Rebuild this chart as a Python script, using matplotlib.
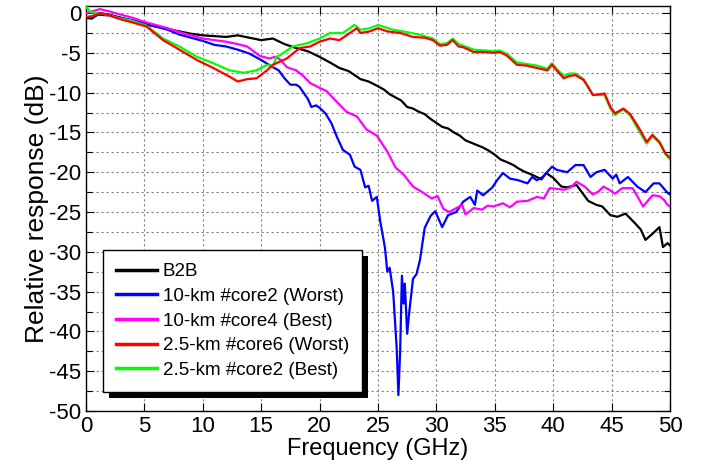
import matplotlib
matplotlib.use("Agg")
import matplotlib.pyplot as plt
from matplotlib.patches import Rectangle
from matplotlib.transforms import IdentityTransform
from matplotlib.ticker import MultipleLocator

plt.rcParams['font.family'] = ['Liberation Sans', 'DejaVu Sans']
plt.rcParams['axes.unicode_minus'] = False

# back-to-back reference
b2b_f = [0, 0.5, 1.2, 2, 3, 4, 5, 6, 7, 8, 9, 10, 11, 12, 13, 14, 15, 16, 17, 18,
         19, 20, 21, 21.7, 22.5, 23.5, 24.2, 25, 25.5, 26, 26.5, 27, 27.5, 28, 28.5, 29, 29.5, 30, 30.5, 31,
         31.5, 32, 32.5, 33, 33.5, 34, 34.5, 35, 35.5, 36, 36.6, 37, 37.5, 38, 38.6, 39, 39.4, 40, 40.7, 41.2,
         42, 42.5, 43, 43.7, 44.2, 44.9, 45.5, 46.2, 47, 47.5, 47.9, 48.3, 48.6, 49.1, 49.4, 49.8, 50]
b2b = [-0.6, -0.7, 0.0, -0.2, -0.6, -1.0, -1.4, -1.7, -2.0, -2.3, -2.6, -2.8, -2.9, -3.0, -2.8, -3.1, -3.4, -3.2, -3.9, -4.4,
       -4.8, -5.5, -6.3, -6.9, -7.3, -8.3, -8.6, -9.2, -9.6, -10.2, -10.6, -11.0, -11.8, -12.0, -12.4, -12.7, -13.3, -13.8, -14.3, -14.5,
       -15.0, -15.4, -16.0, -16.3, -16.6, -16.9, -17.3, -17.8, -18.4, -18.7, -19.1, -19.5, -19.9, -20.2, -20.6, -20.9, -20.1, -20.7, -21.8, -21.9,
       -21.6, -22.6, -23.6, -24.1, -24.3, -25.4, -25.6, -25.2, -26.4, -27.2, -28.5, -28.0, -27.6, -26.9, -29.4, -28.9, -29.2]

# 10-km fibre, core 2 (worst)
c10w_f = [0, 0.5, 1, 2, 3, 4, 5, 6, 7, 8, 9, 10, 11, 12, 13, 14, 15, 16, 16.5, 17,
          17.5, 18, 18.3, 19, 19.3, 19.7, 20, 20.5, 21, 21.5, 22, 22.6, 23, 23.5, 23.9, 24.2, 24.5, 24.9, 25.2, 25.6,
          25.8, 26.0, 26.3, 26.6, 26.75, 26.9, 27.05, 27.2, 27.3, 27.5, 27.7, 28.0, 28.3, 28.6, 29.0, 29.5, 29.9, 30.5, 31.0, 31.7,
          32.3, 32.9, 33.3, 33.5, 34.0, 34.8, 35.2, 35.7, 36.3, 37.0, 37.8, 38.2, 38.6, 39.1, 39.9, 40.3, 41.2, 41.9, 42.6, 43.2,
          43.7, 44.4, 45.1, 45.4, 45.7, 46.4, 47.2, 47.9, 48.6, 49.1, 49.8, 50]
c10w = [-0.5, -0.5, -0.2, -0.3, -0.6, -0.9, -1.3, -1.7, -2.1, -2.7, -3.1, -3.5, -4.0, -4.2, -4.6, -5.1, -5.9, -6.8, -7.2, -8.2,
        -9.0, -9.0, -9.3, -10.8, -11.8, -11.6, -11.9, -12.6, -13.8, -15.6, -17.2, -17.8, -19.3, -19.7, -21.9, -21.7, -23.6, -23.1, -26.2, -29.5,
        -32.5, -32.0, -35.0, -42.0, -48.0, -42.5, -33.0, -36.5, -34.0, -40.3, -37.3, -33.4, -32.8, -31.0, -27.0, -25.5, -24.9, -26.9, -25.4, -25.0,
        -23.7, -23.1, -24.1, -22.3, -22.9, -21.9, -21.0, -20.1, -20.8, -21.0, -21.4, -20.6, -21.0, -20.6, -19.3, -19.7, -20.0, -19.1, -19.1, -20.6,
        -20.0, -19.7, -20.8, -20.3, -21.4, -20.6, -21.8, -22.5, -21.4, -21.4, -22.6, -22.8]

# 10-km fibre, core 4 (best)
c10b_f = [0, 0.5, 1.2, 2, 3, 4, 5, 6, 7, 8, 9, 10, 11, 12, 13, 13.8, 14.9, 15.7, 16.2, 16.6,
          17.2, 18, 18.6, 19.2, 20, 20.6, 21.5, 22.3, 23.2, 24, 24.9, 25.8, 26.5, 27.2, 28, 28.9, 29.6, 30.1, 30.6, 31.1,
          31.6, 32.2, 32.5, 33.2, 33.9, 34.4, 34.9, 35.7, 36.3, 36.9, 37.8, 38.6, 39.2, 39.7, 40.4, 40.9, 41.5, 42, 42.7, 43.4,
          43.9, 44.3, 44.8, 45.3, 45.9, 46.8, 47.2, 47.7, 48.1, 48.5, 49.1, 49.5, 49.8, 50]
c10b = [0.0, 0.2, 0.5, 0.2, -0.2, -0.6, -1.1, -1.5, -1.9, -2.4, -2.8, -3.2, -3.4, -3.6, -3.9, -4.2, -5.4, -5.7, -5.5, -5.8,
        -6.8, -7.2, -7.9, -8.8, -9.4, -9.8, -11.2, -12.4, -13.0, -14.6, -15.4, -17.4, -19.4, -20.3, -21.8, -22.6, -23.3, -23.0, -24.6, -25.0,
        -24.6, -24.1, -25.3, -24.5, -24.7, -24.2, -24.3, -23.9, -24.4, -23.7, -23.6, -23.1, -23.3, -22.0, -22.1, -22.2, -21.9, -21.2, -21.8, -22.8,
        -22.4, -21.8, -22.2, -22.7, -22.0, -22.0, -23.0, -24.3, -23.6, -22.9, -23.0, -23.5, -24.1, -24.3]

# 2.5-km fibre, core 6 (worst)
c25w_f = [0, 0.5, 1.2, 2, 3, 3.8, 5.2, 6.6, 8, 9.5, 10.9, 12.3, 13, 13.8, 14.6, 15.5, 16, 16.6, 17.2, 18.3,
          19.2, 20, 20.9, 21.7, 22.6, 23.2, 23.5, 24.3, 25, 25.8, 26.9, 28, 29, 29.7, 30.3, 30.9, 31.4, 31.9, 32.3, 33.2,
          34.2, 34.9, 35.4, 36, 36.9, 37.7, 38.6, 39.5, 39.9, 40.3, 40.9, 41.4, 41.9, 42.6, 43.0, 43.4, 44.0, 44.4, 44.9, 45.3,
          46, 46.6, 47.2, 47.6, 48, 48.5, 49.1, 49.6, 50]
c25w = [-0.5, -0.4, 0.0, -0.3, -0.8, -1.1, -1.7, -3.4, -4.6, -5.9, -6.9, -8.0, -8.6, -8.3, -8.2, -7.2, -6.5, -6.1, -5.7, -4.4,
        -4.2, -3.6, -3.2, -3.4, -2.5, -1.9, -2.5, -2.3, -1.9, -2.3, -2.5, -3.0, -3.1, -3.4, -4.1, -4.0, -3.4, -4.2, -4.3, -4.9,
        -4.9, -5.0, -4.9, -5.3, -6.5, -6.6, -6.9, -7.2, -6.5, -7.2, -8.2, -7.9, -7.8, -8.4, -9.3, -10.3, -10.2, -10.1, -11.8, -12.6,
        -12.0, -12.7, -14.1, -15.1, -16.2, -15.3, -16.2, -17.6, -18.2]

# 2.5-km fibre, core 2 (best)
c25b_f = [0, 0.4, 1.2, 2, 3, 3.8, 5.2, 6.6, 8, 9.5, 10.9, 12.3, 13.5, 14.6, 15.5, 16.0, 16.3, 16.6, 17.7, 18.9,
          20, 20.9, 22, 23, 23.5, 24.3, 25, 26.3, 27.5, 28.5, 29.7, 30.3, 30.9, 31.4, 31.9, 32.3, 33.2, 34.2, 34.9, 35.4,
          36, 36.9, 37.7, 38.6, 39.5, 39.9, 40.3, 40.9, 41.4, 41.9, 42.6, 43.0, 43.4, 44.0, 44.4, 44.9, 45.3, 46, 46.6, 47.2,
          47.6, 48, 48.5, 49.1, 49.6, 50]
c25b = [0.8, 0.1, 0.0, -0.3, -0.7, -0.9, -1.6, -3.2, -4.2, -5.5, -6.3, -7.2, -7.5, -7.2, -6.5, -6.7, -5.5, -5.3, -4.2, -3.8,
        -3.2, -2.5, -2.5, -1.5, -2.1, -1.9, -1.5, -2.1, -2.4, -2.7, -3.2, -3.9, -3.8, -3.2, -3.9, -4.1, -4.6, -4.7, -4.8, -4.7,
        -5.1, -6.2, -6.4, -6.6, -7.0, -6.3, -7.0, -7.9, -7.6, -7.6, -8.3, -9.3, -10.3, -10.3, -10.3, -12.0, -12.8, -12.1, -12.9, -14.4,
        -15.4, -16.4, -15.5, -16.3, -17.7, -18.4]

labels = ["B2B", "10-km #core2 (Worst)", "10-km #core4 (Best)",
          "2.5-km #core6 (Worst)", "2.5-km #core2 (Best)"]
colors = ["#000000", "#0000ff", "#ff00ff", "#ff0000", "#00ff00"]
series = [(b2b_f, b2b), (c10w_f, c10w), (c10b_f, c10b), (c25w_f, c25w), (c25b_f, c25b)]
zorders = [3, 3, 3, 3.2, 3.1]

fig = plt.figure(figsize=(7.07, 4.76), dpi=100)
ax = fig.add_axes([0.1216, 0.1366, 0.826, 0.851])

for (f, r), color, label, z in zip(series, colors, labels, zorders):
    ax.plot(f, r, color=color, linewidth=1.6, label=label, zorder=z)

ax.set_xlim(0, 50)
ax.set_ylim(-50, 0.9)
ax.xaxis.set_major_locator(MultipleLocator(5))
ax.yaxis.set_major_locator(MultipleLocator(5))
ax.yaxis.set_minor_locator(MultipleLocator(2.5))

ax.grid(True, which='major', color='0.5', linestyle=(0, (2, 2.5)), linewidth=0.8)
ax.grid(True, which='minor', axis='y', color='0.5', linestyle=(0, (2, 2.5)), linewidth=0.8)

ax.tick_params(axis='both', which='major', labelsize=16, direction='in', length=6,
               top=True, right=True, width=0.8)
ax.tick_params(axis='both', which='minor', direction='in', length=4, top=True, right=True, width=0.8)
for s in ax.spines.values():
    s.set_linewidth(1.0)

ax.set_xlabel("Frequency (GHz)", fontsize=17, labelpad=1)
ax.set_ylabel("Relative response (dB)", fontsize=19, labelpad=0)

leg = ax.legend(loc='lower left', bbox_to_anchor=(0.029, 0.047), borderaxespad=0,
                fontsize=13.5, frameon=True, fancybox=False, framealpha=1,
                edgecolor='black', handlelength=2.2, handletextpad=0.3,
                labelspacing=0.4, borderpad=0.7)
leg.get_frame().set_linewidth(1.0)
for line in leg.get_lines():
    line.set_linewidth(2.5)

# solid drop shadow behind the legend box
fig.canvas.draw()
bb = leg.get_window_extent()
shadow = Rectangle((bb.x0 + 6, bb.y0 - 6), bb.width, bb.height, transform=IdentityTransform(),
                   facecolor='black', edgecolor='none', zorder=4.9)
ax.add_artist(shadow)

fig.savefig("out.png", dpi=100)
